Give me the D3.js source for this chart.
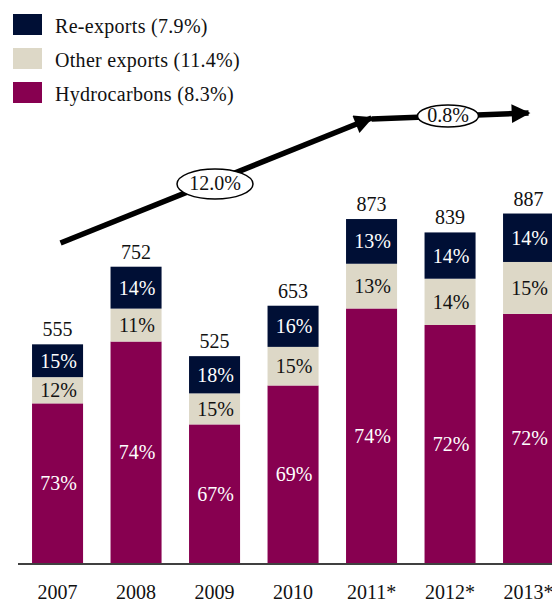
<!DOCTYPE html>
<html><head><meta charset="utf-8">
<script src="https://cdn.jsdelivr.net/npm/d3@7"></script>
<style>
html,body{margin:0;padding:0;background:#fff;}
svg{display:block;font-family:"Liberation Serif","Times New Roman",serif;}
</style></head>
<body>
<svg id="chart" width="552" height="603" font-family="Liberation Serif, serif"></svg>
<script>
const years = ["2007","2008","2009","2010","2011*","2012*","2013*"];
const totals = [555, 752, 525, 653, 873, 839, 887];
const hydrocarbons = [73, 74, 67, 69, 74, 72, 72];
const otherExports = [12, 11, 15, 15, 13, 14, 15];
const reExports = [15, 14, 18, 16, 13, 14, 14];
const seriesNames = ["Re-exports (7.9%)", "Other exports (11.4%)", "Hydrocarbons (8.3%)"];
const growthLabels = ["12.0%", "0.8%"];

const colors = {hydro:"#870050", other:"#DDD8C7", re:"#000F35"};
const FS = 20;

const svg = d3.select("#chart");
const baseY = 563;
const x = d3.scaleBand().domain(years).range([18.3, 567.8]).paddingInner(0.35).paddingOuter(0.175);
const y = d3.scaleLinear().domain([0, 1000]).range([baseY, 169]);

const rows = years.map((yr, i) => {
  const sum = hydrocarbons[i] + otherExports[i] + reExports[i];
  const parts = [
    {key:"hydro", pct:hydrocarbons[i]},
    {key:"other", pct:otherExports[i]},
    {key:"re", pct:reExports[i]}
  ];
  let acc = 0;
  parts.forEach(p => { p.y0 = acc; acc += totals[i] * p.pct / sum; p.y1 = acc; });
  return {year: yr, total: totals[i], parts};
});

const g = svg.append("g");
rows.forEach(r => {
  const gx = x(r.year);
  r.parts.forEach(p => {
    g.append("rect").attr("x", gx).attr("width", x.bandwidth())
      .attr("y", y(p.y1)).attr("height", y(p.y0) - y(p.y1))
      .attr("fill", colors[p.key]);
    g.append("text").attr("x", gx + x.bandwidth()/2 + 1)
      .attr("y", (y(p.y0) + y(p.y1))/2 + 7)
      .attr("text-anchor", "middle").attr("font-size", FS)
      .attr("fill", p.key === "other" ? "#111" : "#fff")
      .text(p.pct + "%");
  });
  g.append("text").attr("x", gx + x.bandwidth()/2)
    .attr("y", y(r.total) - 8)
    .attr("text-anchor", "middle").attr("font-size", FS).attr("fill", "#111")
    .text(r.total);
});

// axis
const axis = d3.axisBottom(x).tickSize(0).tickPadding(0);
const ax = svg.append("g").attr("transform", `translate(0,${baseY})`).call(axis);
ax.select(".domain").remove();
ax.selectAll("text").attr("font-size", FS).attr("fill", "#111")
  .attr("font-family", "Liberation Serif, serif").attr("dy", null).attr("y", 36);
svg.append("line").attr("x1", 18).attr("x2", 552).attr("y1", baseY + 1).attr("y2", baseY + 1)
  .attr("stroke", "#000").attr("stroke-width", 1.5);

// legend
const legendColors = [colors.re, colors.other, colors.hydro];
seriesNames.forEach((n, i) => {
  const ly = 14 + i * 34;
  svg.append("rect").attr("x", 13).attr("y", ly).attr("width", 29).attr("height", 21).attr("fill", legendColors[i]);
  svg.append("text").attr("x", 55).attr("y", ly + 19).attr("font-size", FS).attr("fill", "#111")
    .attr("letter-spacing", 0.3).text(n);
});

// growth arrows
const defs = svg.append("defs");
defs.append("marker").attr("id", "ah").attr("viewBox", "0 0 10 10").attr("refX", 9).attr("refY", 5)
  .attr("markerWidth", 4).attr("markerHeight", 3.4).attr("markerUnits", "strokeWidth").attr("orient", "auto")
  .append("path").attr("d", "M0,0 L10,5 L0,10 Z").attr("fill", "#000");

const cx = i => x(years[i]) + x.bandwidth()/2;
const arrows = [
  {x1: cx(0) + 3, y1: 243, x2: cx(4), y2: 118},
  {x1: cx(4), y1: 119, x2: cx(6), y2: 113}
];
arrows.forEach(a => {
  svg.append("line").attr("x1", a.x1).attr("y1", a.y1).attr("x2", a.x2).attr("y2", a.y2)
    .attr("stroke", "#000").attr("stroke-width", 5.5).attr("marker-end", "url(#ah)");
});
const ell = [
  {cx: 215, cy: 184, rx: 38, ry: 15, label: growthLabels[0]},
  {cx: 448, cy: 116, rx: 30.5, ry: 11, label: growthLabels[1]}
];
ell.forEach(e => {
  svg.append("ellipse").attr("cx", e.cx).attr("cy", e.cy).attr("rx", e.rx).attr("ry", e.ry)
    .attr("fill", "#fff").attr("stroke", "#000").attr("stroke-width", 1.5);
  svg.append("text").attr("x", e.cx).attr("y", e.cy + 6).attr("text-anchor", "middle")
    .attr("font-size", FS).attr("fill", "#111").text(e.label);
});
</script>
</body></html>
